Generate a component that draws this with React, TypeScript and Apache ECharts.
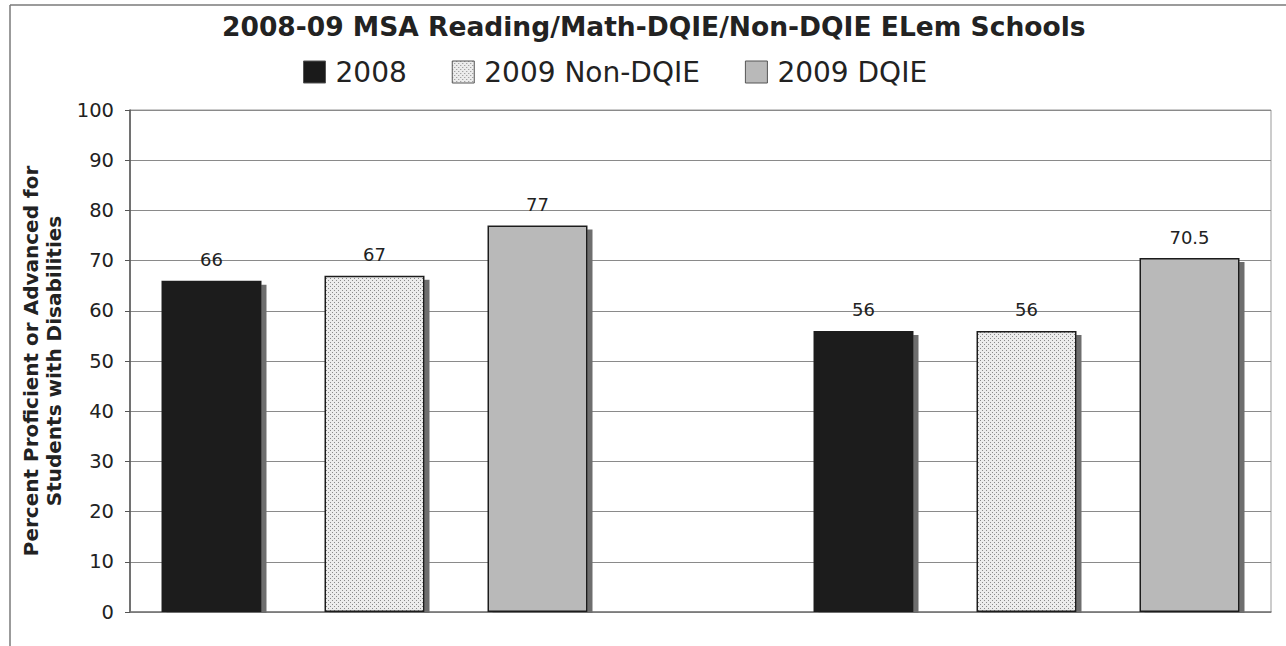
import React, { useEffect, useRef } from "react";
import * as echarts from "echarts";

const titleText = "2008-09 MSA Reading/Math-DQIE/Non-DQIE ELem Schools";
const yAxisName = "Percent Proficient or Advanced for\nStudents with Disabilities";
const categories = ["Reading", "Math"];
const seriesNames = ["2008", "2009 Non-DQIE", "2009 DQIE"];
const values2008 = [66, 56];
const valuesNonDqie = [67, 56];
const valuesDqie = [77, 70.5];
const yTicks = [0, 10, 20, 30, 40, 50, 60, 70, 80, 90, 100];

// slot layout: each category takes 3 slots, one empty slot between groups
const SLOTS_PER_GROUP = 4;
const slotCount = categories.length * SLOTS_PER_GROUP - 1;

function buildSlotData(values: number[], k: number) {
  const arr: (number | string)[] = new Array(slotCount).fill("-");
  values.forEach((v, i) => {
    arr[i * SLOTS_PER_GROUP + k] = v;
  });
  return arr;
}

function makeDotPattern() {
  const c = document.createElement("canvas");
  c.width = 4;
  c.height = 4;
  const ctx = c.getContext("2d")!;
  ctx.fillStyle = "#ececec";
  ctx.fillRect(0, 0, 4, 4);
  ctx.fillStyle = "#8a8a8a";
  ctx.fillRect(0, 0, 1, 1);
  ctx.fillRect(2, 2, 1, 1);
  return c;
}

export default function App() {
  const ref = useRef<HTMLDivElement>(null);
  useEffect(() => {
    if (!ref.current) return;
    const chart = echarts.init(ref.current, undefined, { renderer: "svg" });
    const pattern = { image: makeDotPattern(), repeat: "repeat" } as any;
    const font = "DejaVu Sans";
    const shadow = {
      shadowColor: "#6e6e6e",
      shadowBlur: 0,
      shadowOffsetX: 5,
      shadowOffsetY: 4,
    };
    const label = {
      show: true,
      position: "top",
      distance: 12,
      fontSize: 18,
      color: "#222",
      fontFamily: font,
    };
    const allValues = [values2008, valuesNonDqie, valuesDqie];
    const colors = ["#1a1a1a", pattern, "#b9b9b9"];
    const series = seriesNames.map((name, k) => ({
      name,
      type: "bar",
      data: buildSlotData(allValues[k], k),
      barWidth: 100,
      barGap: "-100%",
      label,
      itemStyle: {
        color: colors[k],
        borderColor: "#1e1e1e",
        borderWidth: 1.5,
        ...shadow,
      },
    }));
    chart.setOption({
      animation: false,
      backgroundColor: "#ffffff",
      title: {
        text: titleText,
        left: 222,
        top: 13,
        padding: 0,
        textStyle: {
          fontSize: 26.5,
          fontWeight: "bold",
          color: "#222",
          fontFamily: font,
        },
      },
      legend: {
        left: 303,
        top: 58,
        padding: 0,
        itemWidth: 22,
        itemHeight: 22,
        itemGap: 45,
        icon: "rect",
        itemStyle: {
          shadowColor: "transparent",
          shadowOffsetX: 0,
          shadowOffsetY: 0,
          borderWidth: 1,
          borderColor: "#555",
        },
        textStyle: {
          fontSize: 28,
          color: "#222",
          fontFamily: font,
          padding: [0, 0, 0, 5],
        },
        data: seriesNames,
      },
      grid: {
        left: 130,
        right: 15,
        top: 110,
        bottom: 34,
        show: true,
        borderColor: "#999",
        borderWidth: 1,
      },
      graphic: [
        {
          type: "line",
          shape: { x1: 10, y1: 5, x2: 10, y2: 646 },
          style: { stroke: "#7a7a7a", lineWidth: 1.5 },
          silent: true,
        },
        {
          type: "line",
          shape: { x1: 10, y1: 5, x2: 1286, y2: 5 },
          style: { stroke: "#7a7a7a", lineWidth: 1.5 },
          silent: true,
        },
        {
          type: "rect",
          z: 100,
          shape: { x: 131, y: 613, width: 1150, height: 8 },
          style: { fill: "#ffffff" },
          silent: true,
        },
      ],
      xAxis: {
        type: "category",
        data: new Array(slotCount).fill(""),
        axisTick: { show: false },
        axisLabel: { show: false },
        axisLine: { lineStyle: { color: "#777", width: 1.5 } },
      },
      yAxis: {
        type: "value",
        min: yTicks[0],
        max: yTicks[yTicks.length - 1],
        interval: yTicks[1] - yTicks[0],
        name: yAxisName,
        nameLocation: "middle",
        nameGap: 62,
        nameTextStyle: {
          fontSize: 20,
          fontWeight: "bold",
          color: "#222",
          fontFamily: font,
          lineHeight: 23,
          align: "center",
        },
        axisLine: { show: true, lineStyle: { color: "#555", width: 1.5 } },
        axisTick: { show: true, length: 5, lineStyle: { color: "#555" } },
        axisLabel: { fontSize: 19.5, color: "#222", margin: 16, fontFamily: font },
        splitLine: { lineStyle: { color: "#8a8a8a", width: 1 } },
      },
      series,
    });
    return () => chart.dispose();
  }, []);
  return (
    <div
      ref={ref}
      style={{ position: "fixed", left: 0, top: 0, width: 1286, height: 646, background: "#fff" }}
    />
  );
}
